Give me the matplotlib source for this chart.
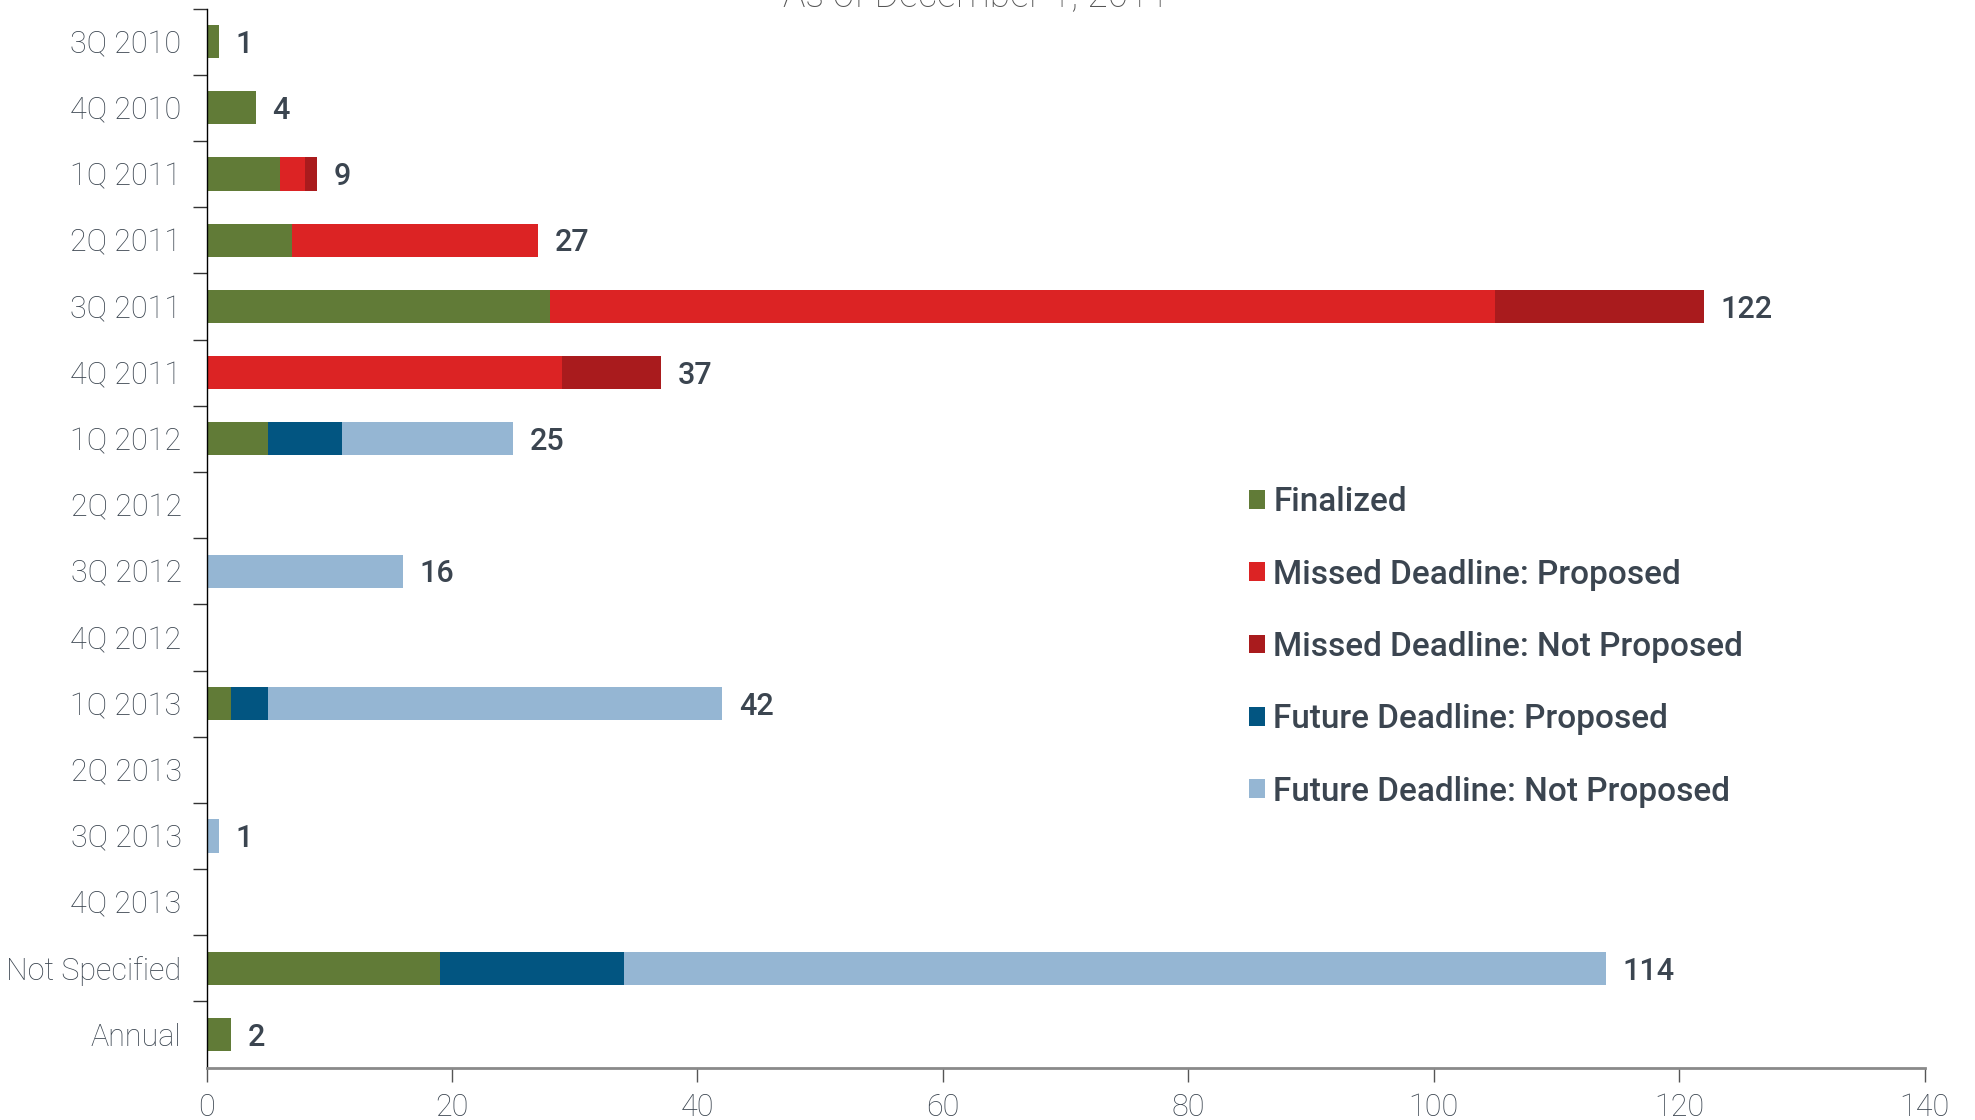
import matplotlib
matplotlib.use("Agg")
import matplotlib.pyplot as plt
import numpy as np

categories = ["3Q 2010", "4Q 2010", "1Q 2011", "2Q 2011", "3Q 2011", "4Q 2011",
              "1Q 2012", "2Q 2012", "3Q 2012", "4Q 2012", "1Q 2013", "2Q 2013",
              "3Q 2013", "4Q 2013", "Not Specified", "Annual"]
finalized          = [1, 4, 6, 7, 28, 0, 5, 0, 0, 0, 2, 0, 0, 0, 19, 2]
missed_proposed    = [0, 0, 2, 20, 77, 29, 0, 0, 0, 0, 0, 0, 0, 0, 0, 0]
missed_notproposed = [0, 0, 1, 0, 17, 8, 0, 0, 0, 0, 0, 0, 0, 0, 0, 0]
future_proposed    = [0, 0, 0, 0, 0, 0, 6, 0, 0, 0, 3, 0, 0, 0, 15, 0]
future_notproposed = [0, 0, 0, 0, 0, 0, 14, 0, 16, 0, 37, 0, 1, 0, 80, 0]
totals = [1, 4, 9, 27, 122, 37, 25, None, 16, None, 42, None, 1, None, 114, 2]

series_names = ["Finalized", "Missed Deadline: Proposed", "Missed Deadline: Not Proposed",
                "Future Deadline: Proposed", "Future Deadline: Not Proposed"]
series_colors = ["#617B37", "#DC2324", "#A91B1D", "#025581", "#95B6D3"]
xticks = [0, 20, 40, 60, 80, 100, 120, 140]
title = "As of December 1, 2011"

TXT = "#3B4550"
plt.rcParams['font.family'] = ['Roboto', 'DejaVu Sans']

fig = plt.figure(figsize=(19.75, 11.2), dpi=100)
ax = fig.add_axes([0.1046, 0.0467, 0.9745 - 0.1046, 0.9924 - 0.0467])

y = np.arange(len(categories))
left = np.zeros(len(categories))
handles = []
for vals, name, col in zip([finalized, missed_proposed, missed_notproposed,
                            future_proposed, future_notproposed], series_names, series_colors):
    v = np.array(vals, dtype=float)
    h = ax.barh(y, v, left=left, height=0.5, color=col, label=name, linewidth=0)
    handles.append(h)
    left += v

for yi, t in zip(y, totals):
    if t is not None:
        ax.annotate(str(t), xy=(t, yi), xytext=(12, -2), textcoords="offset points",
                    va="center", ha="left", fontsize=22, fontweight="medium", color=TXT)

ax.set_xlim(0, 140)
ax.set_ylim(len(categories) - 0.5, -0.5)
ax.set_xticks(xticks)
ax.set_xticklabels([str(x) for x in xticks], fontsize=22, fontweight="light", color=TXT)
ax.tick_params(axis="x", length=10, width=1, color="#555555", pad=8)

ax.set_yticks(np.arange(-0.5, len(categories) - 0.5, 1.0))
ax.set_yticklabels([])
ax.set_yticks(y, minor=True)
ax.set_yticklabels(categories, minor=True, fontsize=22, fontweight="light", color=TXT)
ax.tick_params(axis="y", which="major", length=10, width=1, color="#333333")
ax.tick_params(axis="y", which="minor", length=0, pad=18)

for s in ["top", "right"]:
    ax.spines[s].set_visible(False)
ax.spines["left"].set_color("#000000")
ax.spines["left"].set_linewidth(1)
ax.spines["bottom"].set_color("#8a8a8a")
ax.spines["bottom"].set_linewidth(2)

leg = ax.legend(handles=handles, loc="upper left", bbox_to_anchor=(0.6067, 0.549),
                frameon=False, fontsize=24, handlelength=0.48, handleheight=0.48,
                handletextpad=0.25, labelspacing=1.21, borderaxespad=0, borderpad=0)
for t in leg.get_texts():
    t.set_color(TXT)
    t.set_fontweight("medium")

fig.text(0.494, 1 - 7 / 1120, title, ha="center", va="baseline", fontsize=27,
         fontweight="light", color="#555555")

fig.savefig("out.png", dpi=100)
